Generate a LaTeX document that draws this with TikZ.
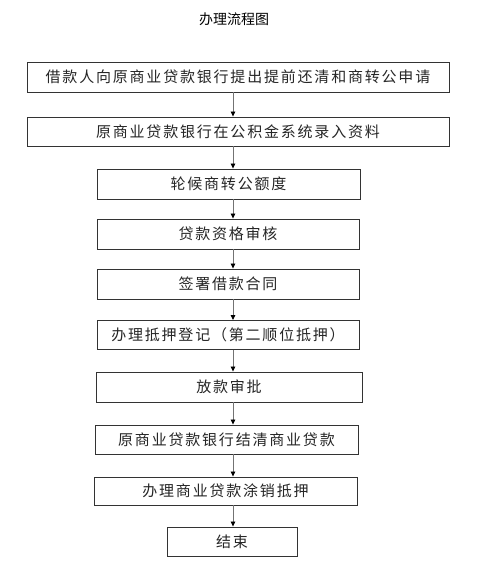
\documentclass[tikz,border=0pt]{standalone}
\usepackage{fontspec}
\usetikzlibrary{arrows.meta}
\newfontfamily\cjk{Noto Sans CJK SC}
\newfontfamily\cjkbox{Noto Sans CJK SC}[LetterSpace=12]
\begin{document}
\begin{tikzpicture}[x=1pt,y=-1pt,
  box/.style={draw=black!80,line width=0.9pt,inner sep=0pt,minimum height=30,
    font=\cjkbox\fontsize{15pt}{18pt}\selectfont,text=black!85},
  arr/.style={draw=black!55,line width=0.8pt,-{Triangle[length=5pt,width=4.5pt,black]}}]
\useasboundingbox[fill=white] (0,0) rectangle (500,563);
\node[font=\cjk\fontsize{14pt}{16pt}\selectfont] (title) at (234,19) {办理流程图};
\node[box,minimum width=422] (b1) at (238,77) {借款人向原商业贷款银行提出提前还清和商转公申请};
\node[box,minimum width=422,minimum height=29] (b2) at (238,131.5) {原商业贷款银行在公积金系统录入资料};
\node[box,minimum width=263] (b3) at (228.5,184) {轮候商转公额度};
\node[box,minimum width=262] (b4) at (228,234) {贷款资格审核};
\node[box,minimum width=262] (b5) at (228,284) {签署借款合同};
\node[box,minimum width=262,minimum height=29] (b6) at (228,335) {办理抵押登记（第二顺位抵押）};
\node[box,minimum width=266] (b7) at (229,387) {放款审批};
\node[box,minimum width=263,minimum height=29] (b8) at (226.5,439.5) {原商业贷款银行结清商业贷款};
\node[box,minimum width=263,minimum height=28] (b9) at (225.5,491) {办理商业贷款涂销抵押};
\node[box,minimum width=130,minimum height=29] (b10) at (232,541.5) {结束};
\coordinate (ax) at (233,0);
\foreach \a/\b in {b1/b2,b2/b3,b3/b4,b4/b5,b5/b6,b6/b7,b7/b8,b8/b9,b9/b10}
  \draw[arr] (\a.south -| ax) -- (\b.north -| ax);
\end{tikzpicture}
\end{document}
